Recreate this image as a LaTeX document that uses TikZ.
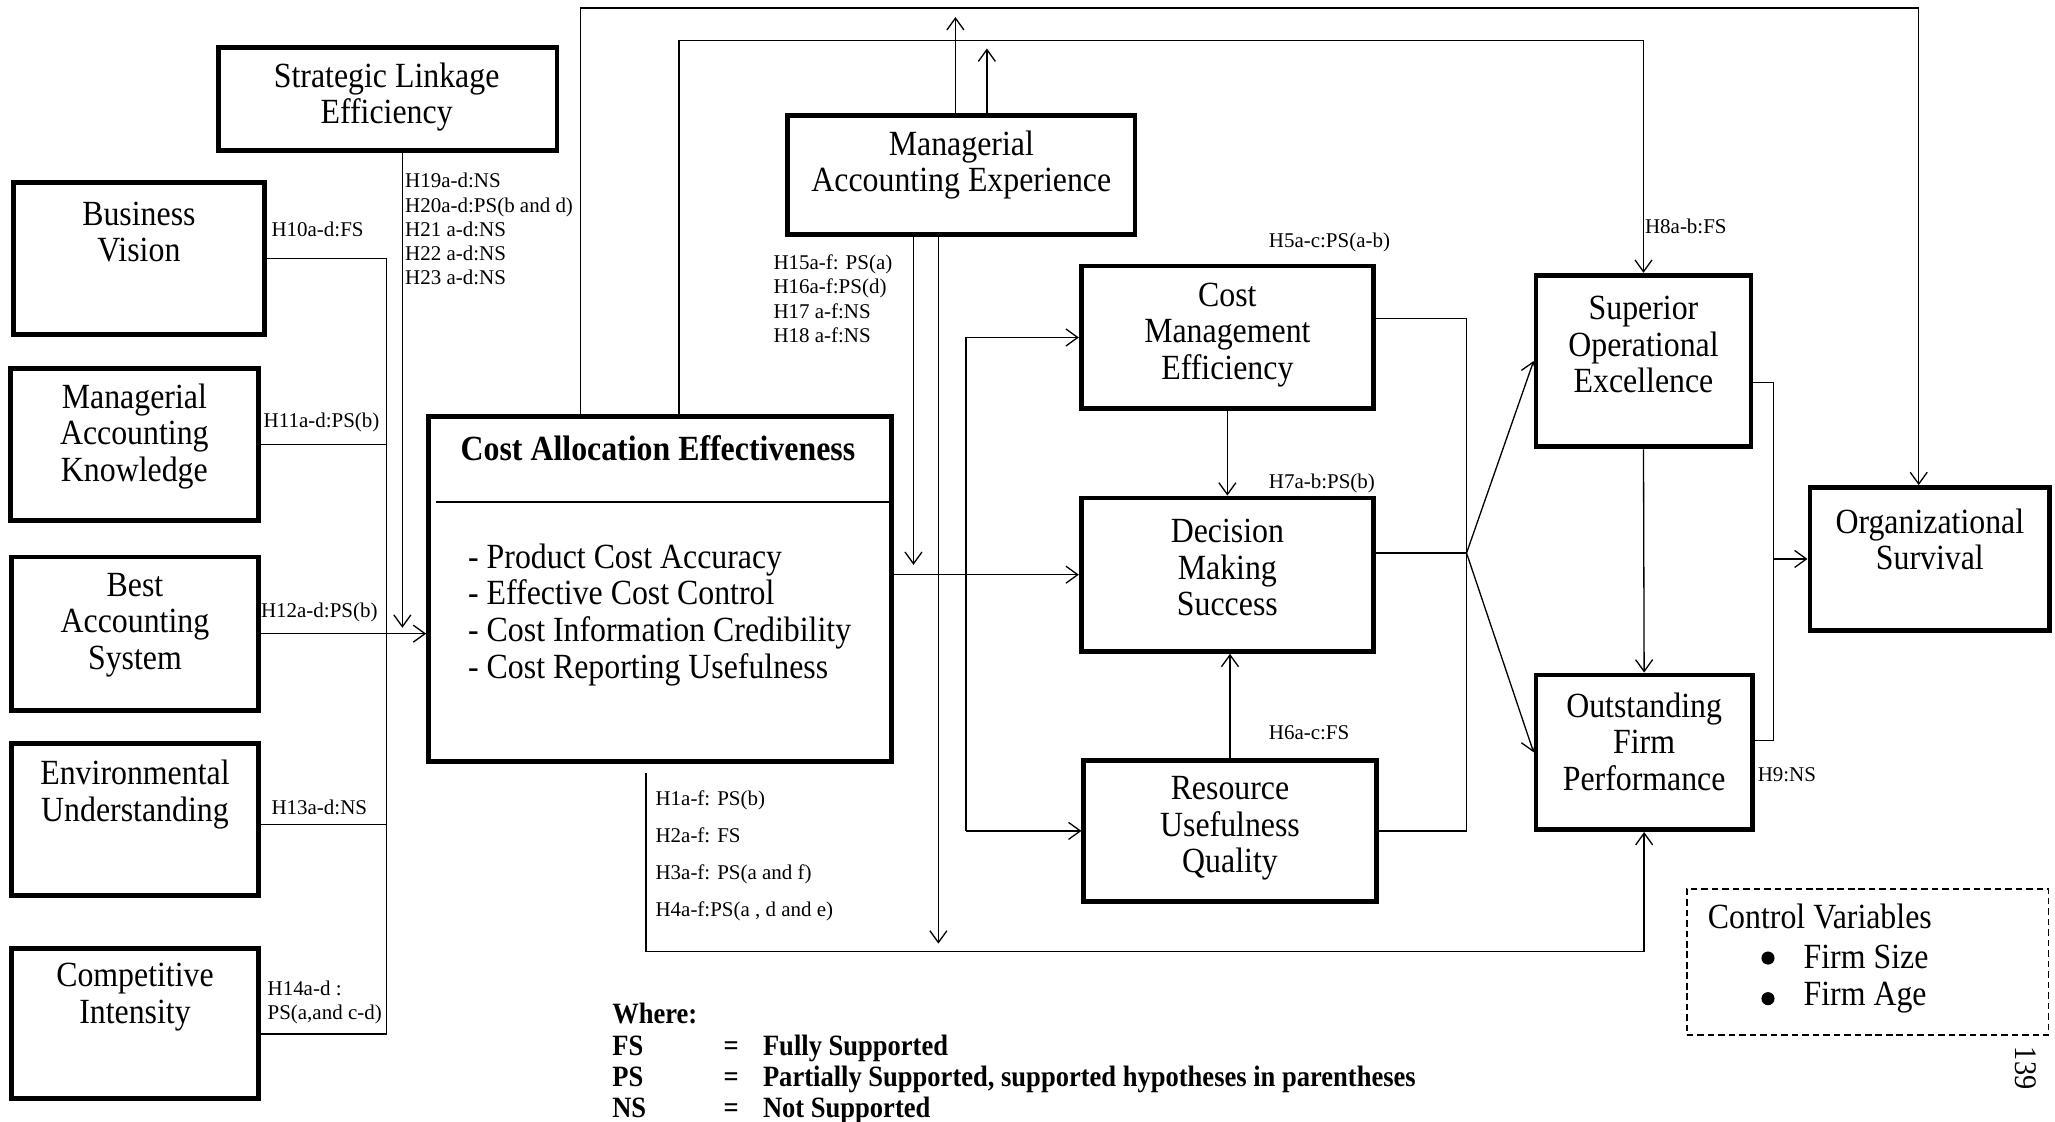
\documentclass[tikz,border=0pt]{standalone}
\usepackage{fontspec}
\setmainfont{Liberation Serif}
\newfontfamily\narrowserif{Liberation Serif}[FakeStretch=0.9]
\usetikzlibrary{arrows.meta}

\begin{document}
\begin{tikzpicture}[x=1pt,y=-1pt,
  box/.style={draw, line width=3.7pt, rectangle, inner sep=0pt},
  lbl/.style={font=\narrowserif\fontsize{27}{28}\selectfont, align=center, inner sep=0pt},
  hyp/.style={font=\fontsize{16}{18.5}\selectfont, align=left, inner sep=0pt, anchor=west},
  legend/.style={font=\narrowserif\bfseries\fontsize{22.5}{24}\selectfont, inner sep=0pt, anchor=base west},
  dot/.style={circle, fill, inner sep=0pt, minimum size=10pt},
  conn/.style={line width=1pt},
  arr/.style={conn, -{Straight Barb[length=9pt,width=13pt,line width=1pt]}},
]
\useasboundingbox (0,0) rectangle (1568,856);

% ---------- antecedent constructs ----------
\node[box, minimum width=258pt, minimum height=79pt]  (sle) at (296,75.5) {};
\node[lbl] (sleT) at (295,74) {Strategic Linkage\\Efficiency};

\node[box, minimum width=192pt, minimum height=116pt] (bv) at (106,197) {};
\node[lbl] (bvT) at (106,177) {Business\\Vision};

\node[box, minimum width=189pt, minimum height=116pt] (mak) at (102.5,339) {};
\node[lbl] (makT) at (102.5,333) {Managerial\\Accounting\\Knowledge};

\node[box, minimum width=188pt, minimum height=117pt] (bas) at (103,483.5) {};
\node[lbl] (basT) at (103,477) {Best\\Accounting\\System};

\node[box, minimum width=188pt, minimum height=116pt] (eu) at (103,625) {};
\node[lbl] (euT) at (103,606) {Environmental\\Understanding};

\node[box, minimum width=188pt, minimum height=114pt] (ci) at (103,781) {};
\node[lbl] (ciT) at (103,761) {Competitive\\Intensity};

% ---------- central construct ----------
\node[box, minimum width=353pt, minimum height=263pt] (cae) at (503.5,449.5) {};
\node[font=\narrowserif\bfseries\fontsize{27}{28}\selectfont, inner sep=0pt] (caeT) at (502,342) {Cost Allocation Effectiveness};
\coordinate (divL) at (333,383);
\draw[line width=1pt] (divL) -- (divL -| cae.east);
\node[lbl, align=left, anchor=west] (caeI) at (357,469)
  {- Product Cost Accuracy\\- Effective Cost Control\\- Cost Information Credibility\\- Cost Reporting Usefulness};

\node[box, minimum width=265pt, minimum height=91pt] (mae) at (733.5,133.5) {};
\node[lbl] (maeT) at (733.5,126) {Managerial\\Accounting Experience};

% ---------- consequences ----------
\node[box, minimum width=223pt, minimum height=109pt] (cme) at (936.5,257.5) {};
\node[lbl] (cmeT) at (936.5,255.5) {Cost\\Management\\Efficiency};

\node[box, minimum width=223pt, minimum height=117pt] (dms) at (936.5,438.5) {};
\node[lbl] (dmsT) at (936.5,433) {Decision\\Making\\Success};

\node[box, minimum width=223pt, minimum height=108pt] (ruq) at (938.5,634) {};
\node[lbl] (ruqT) at (938.5,632) {Resource\\Usefulness\\Quality};

\node[box, minimum width=164pt, minimum height=131pt] (soe) at (1254,275.5) {};
\node[lbl] (soeT) at (1254,263) {Superior\\Operational\\Excellence};

\node[box, minimum width=165pt, minimum height=118pt] (ofp) at (1254.5,574) {};
\node[lbl] (ofpT) at (1254.5,566) {Outstanding\\Firm\\Performance};

\node[box, minimum width=183pt, minimum height=109pt] (os) at (1472.5,426.5) {};
\node[lbl] (osT) at (1472.5,411.5) {Organizational\\Survival};

% ---------- control variables ----------
\node[draw, dashed, line width=1.4pt, dash pattern=on 5pt off 3pt, minimum width=276pt, minimum height=112pt, inner sep=0pt] (cv) at (1425,734) {};
\node[lbl, anchor=west] (cvT) at (1303,699) {Control Variables};
\node[dot] (cvB1) at (1349,731) {};
\node[dot] (cvB2) at (1349,762) {};
\node[lbl, anchor=west] (cvS) at (1376,730) {Firm Size};
\node[lbl, anchor=west] (cvA) at (1376,761) {Firm Age};

% ---------- antecedents to cost allocation effectiveness ----------
\coordinate (busT) at (295,197);
\coordinate (busB) at (295,789);
\coordinate (euL) at (197,629);
\draw[conn] (bv.east) -- (busT) -- (busB) -- (ci.east |- busB);
\draw[conn] (mak.east) -- (mak.east -| busT);
\draw[conn] (euL) -- (euL -| busT);
\draw[arr] (bas.east) -- (bas.east -| cae.west);
\coordinate (sleTip) at (307,479);
\draw[arr] (sle.south -| sleTip) -- (sleTip);

\node[hyp] (h10) at (207,175) {H10a-d:FS};
\node[hyp] (h11) at (201,322) {H11a-d:PS(b)};
\node[hyp] (h12) at (199,467) {H12a-d:PS(b)};
\node[hyp] (h13) at (207,616) {H13a-d:NS};
\node[hyp] (h14) at (204,765) {H14a-d :\\PS(a,and c-d)};
\node[hyp] (h19) at (309,175) {H19a-d:NS\\H20a-d:PS(b and d)\\H21 a-d:NS\\H22 a-d:NS\\H23 a-d:NS};

% ---------- outer paths over the top ----------
\coordinate (t1) at (443,6);
\coordinate (t2) at (1464,6);
\draw[arr] (cae.north -| t1) -- (t1) -- (t2) -- (os.north -| t2);
\coordinate (s1) at (518,31);
\coordinate (s2) at (1254,31);
\draw[arr] (cae.north -| s1) -- (s1) -- (s2) -- (soe.north);

% ---------- moderating experience ----------
\coordinate (m1) at (729,13);
\coordinate (m2) at (753,37);
\draw[arr] (mae.north -| m1) -- (m1);
\draw[arr] (mae.north -| m2) -- (m2);
\coordinate (m3) at (697,431);
\coordinate (m4) at (716,720);
\draw[arr] (mae.south -| m3) -- (m3);
\draw[arr] (mae.south -| m4) -- (m4);
\node[hyp] (h15) at (590,228) {H15a-f: PS(a)\\H16a-f:PS(d)\\H17 a-f:NS\\H18 a-f:NS};

% ---------- cost allocation effectiveness to consequences ----------
\draw[arr] (cae.east |- dms.west) -- (dms.west);
\coordinate (xb) at (737,0);
\draw[conn] (cme.west -| xb) -- (ruq.west -| xb);
\draw[arr] (cme.west -| xb) -- (cme.west);
\draw[arr] (ruq.west -| xb) -- (ruq.west);
\draw[arr] (cme.south) -- (dms.north);
\draw[arr] (ruq.north) -- (ruq.north |- dms.south);

\coordinate (c1) at (1119,243);
\coordinate (c2) at (1119,634);
\coordinate (c3) at (1119,422);
\draw[conn] (cme.east |- c1) -- (c1) -- (c2) -- (ruq.east |- c2);
\draw[conn] (dms.east |- c3) -- (c3);
\draw[arr] (c3) -- (soe.west);
\draw[arr] (c3) -- (ofp.west);

\draw[arr] (soe.south) -- (ofp.north);
\coordinate (d1) at (1353,292);
\coordinate (d2) at (1353,565);
\draw[conn] (soe.east |- d1) -- (d1) -- (d2) -- (ofp.east |- d2);
\draw[arr] (d1 |- os.west) -- (os.west);

\coordinate (e1) at (493,590);
\coordinate (e2) at (493,726);
\draw[arr] (e1) -- (e2) -- (e2 -| ofp.south) -- (ofp.south);

\node[hyp] (h5) at (968,185) {H5a-c:PS(a-b)};
\node[hyp] (h7) at (968,369) {H7a-b:PS(b)};
\node[hyp] (h6) at (968,559) {H6a-c:FS};
\node[hyp] (h8) at (1255,173) {H8a-b:FS};
\node[hyp] (h9) at (1341,591) {H9:NS};
\node[hyp, font=\fontsize{16}{28.3}\selectfont] (h1) at (500,653) {H1a-f: PS(b)\\H2a-f: FS\\H3a-f: PS(a and f)\\H4a-f:PS(a , d and e)};

% ---------- key ----------
\node[legend] (kW) at (467,781) {Where:};
\node[legend] (kF) at (467,805) {FS};
\node[legend] (kP) at (467,829) {PS};
\node[legend] (kN) at (467,853) {NS};
\node[legend] (kF2) at (552,805) {=};
\node[legend] (kP2) at (552,829) {=};
\node[legend] (kN2) at (552,853) {=};
\node[legend] (kF3) at (582,805) {Fully Supported};
\node[legend] (kP3) at (582,829) {Partially Supported, supported hypotheses in parentheses};
\node[legend] (kN3) at (582,853) {Not Supported};

\node[font=\narrowserif\fontsize{24}{26}\selectfont, rotate=-90, inner sep=0pt] (pg) at (1546,815) {139};
\end{tikzpicture}
\end{document}
